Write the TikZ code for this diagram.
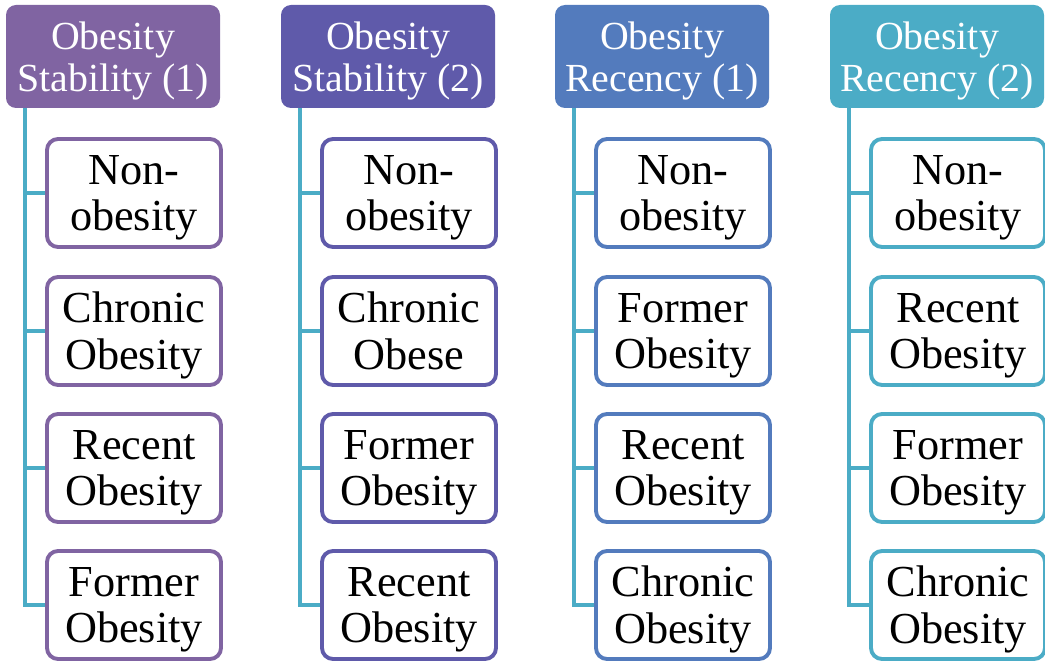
\documentclass[tikz,border=0pt]{standalone}
\usepackage{fontspec}
\setmainfont{Liberation Serif}
\usetikzlibrary{positioning, calc}
\definecolor{hdone}{HTML}{8064A2}
\definecolor{hdtwo}{HTML}{5F5AAA}
\definecolor{hdthree}{HTML}{537BBD}
\definecolor{hdfour}{HTML}{4BACC6}
\definecolor{linkc}{HTML}{4BACC6}

\begin{document}
\begin{tikzpicture}[x=0.03cm, y=0.03cm,
    header/.style={rectangle, rounded corners=0.3cm, draw=none, text=white, align=center,
        minimum width=214*0.03cm, minimum height=103*0.03cm, inner sep=0pt, text depth=0pt,
        font=\fontsize{34}{36}\selectfont},
    item/.style={rectangle, rounded corners=0.33cm, draw, line width=3.3pt, fill=white, align=center,
        minimum width=174*0.03cm, minimum height=108*0.03cm, inner sep=0pt, text depth=0pt,
        font=\fontsize{37.8}{40}\selectfont},
    link/.style={draw=linkc, line width=3.6pt}]
    \useasboundingbox (0,0) rectangle (1045,662);
    % headers
    \node[header, fill=hdone] (s1hd) at (113,605.5) {Obesity\\Stability (1)};
    \node[header, fill=hdtwo] (s2hd) at (388,605.5) {Obesity\\Stability (2)};
    \node[header, fill=hdthree] (r1hd) at (662,605.5) {Obesity\\Recency (1)};
    \node[header, fill=hdfour] (r2hd) at (937,605.5) {Obesity\\Recency (2)};
    % vertical tops
    \coordinate (s1top) at (25,554);
    \coordinate (s2top) at (300,554);
    \coordinate (r1top) at (574,554);
    \coordinate (r2top) at (849,554);
    % Obesity Stability (1)
    \node[item, draw=hdone] (s1a) at (134,469) {Non-\\obesity};
    \node[item, draw=hdone] (s1b) at (134,331) {Chronic\\Obesity};
    \node[item, draw=hdone] (s1c) at (134,194) {Recent\\Obesity};
    \node[item, draw=hdone] (s1d) at (134,57) {Former\\Obesity};
    % Obesity Stability (2)
    \node[item, draw=hdtwo] (s2a) at (409,469) {Non-\\obesity};
    \node[item, draw=hdtwo] (s2b) at (409,331) {Chronic\\Obese};
    \node[item, draw=hdtwo] (s2c) at (409,194) {Former\\Obesity};
    \node[item, draw=hdtwo] (s2d) at (409,57) {Recent\\Obesity};
    % Obesity Recency (1)
    \node[item, draw=hdthree] (r1a) at (683,469) {Non-\\obesity};
    \node[item, draw=hdthree] (r1b) at (683,331) {Former\\Obesity};
    \node[item, draw=hdthree] (r1c) at (683,194) {Recent\\Obesity};
    \node[item, draw=hdthree] (r1d) at (683,57) {Chronic\\Obesity};
    % Obesity Recency (2)
    \node[item, draw=hdfour] (r2a) at (958,469) {Non-\\obesity};
    \node[item, draw=hdfour] (r2b) at (958,331) {Recent\\Obesity};
    \node[item, draw=hdfour] (r2c) at (958,194) {Former\\Obesity};
    \node[item, draw=hdfour] (r2d) at (958,57) {Chronic\\Obesity};
    % connectors
    \foreach \col in {s1,s2,r1,r2} {
        \draw[link] (\col top) |- (\col d.west);
        \foreach \row in {a,b,c}
            \draw[link] (\col top |- \col\row.west) -- (\col\row.west);
    }
\end{tikzpicture}
\end{document}
